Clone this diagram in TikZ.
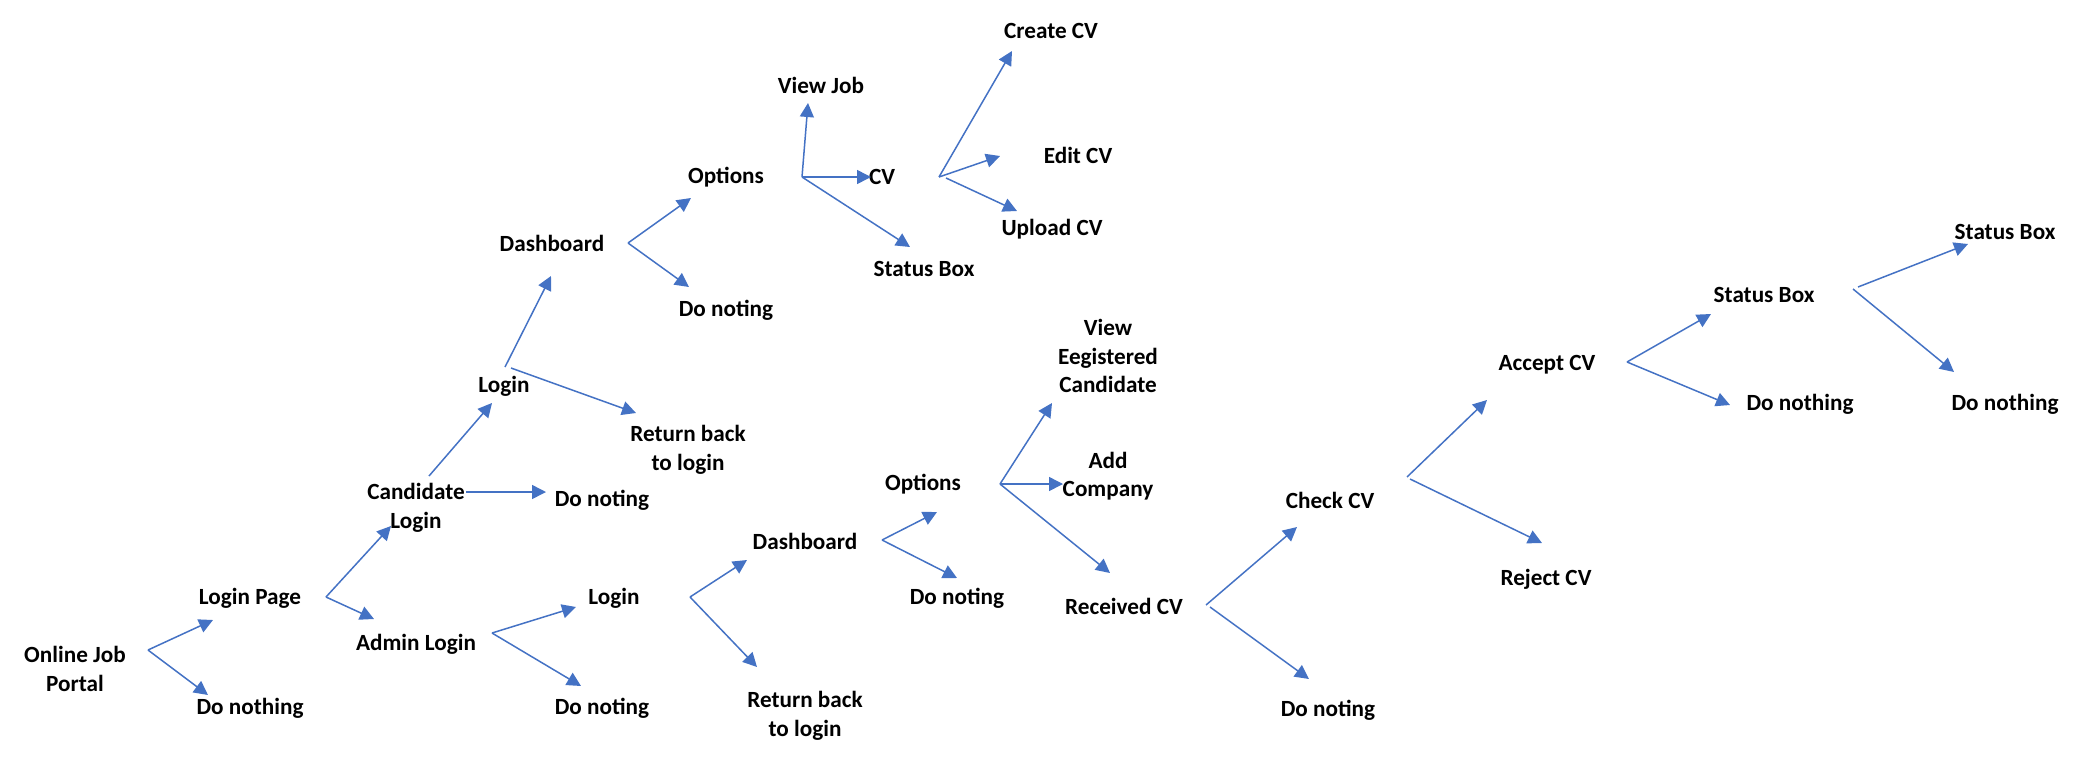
\documentclass[tikz,border=0pt]{standalone}
\usepackage{fontspec}
\setmainfont{Carlito}
\usetikzlibrary{arrows.meta}
\definecolor{officeblue}{HTML}{4472C4}
\tikzset{
  lbl/.style={font=\fontsize{11.6}{14.3}\selectfont\bfseries, align=center, inner sep=0pt, text=black},
  arr/.style={draw=officeblue, line width=0.75pt, -{Triangle[length=7pt,width=7pt]}}
}
\begin{document}
\begin{tikzpicture}[x=0.5pt,y=-0.5pt]
\useasboundingbox (0,0) rectangle (2081,766);
% nodes
\node[lbl] (ojp) at (75,669) {Online Job\\Portal};
\node[lbl] (lp) at (250,598) {Login Page};
\node[lbl] (dn1) at (250,708) {Do nothing};
\node[lbl] (cl) at (416,508) {Candidate\\Login};
\node[lbl] (al) at (416,644) {Admin Login};
\node[lbl] (dn2) at (602,500) {Do noting};
\node[lbl] (login1) at (504,386) {Login};
\node[lbl] (rb1) at (688,450) {Return back\\to login};
\node[lbl] (dash1) at (552,243) {Dashboard};
\node[lbl] (opt1) at (726,177) {Options};
\node[lbl] (dn3) at (726,310) {Do noting};
\node[lbl] (vj) at (821,85) {View Job};
\node[lbl] (cv) at (882,177) {CV};
\node[lbl] (sb1) at (924,269) {Status Box};
\node[lbl] (ccv) at (1051,31) {Create CV};
\node[lbl] (ecv) at (1078,155) {Edit CV};
\node[lbl] (ucv) at (1052,229) {Upload CV};
\node[lbl] (login2) at (614,598) {Login};
\node[lbl] (dn4) at (602,708) {Do noting};
\node[lbl] (dash2) at (805,541) {Dashboard};
\node[lbl] (rb2) at (805,716) {Return back\\to login};
\node[lbl] (opt2) at (923,484) {Options};
\node[lbl] (dn5) at (957,598) {Do noting};
\node[lbl] (vec) at (1108,356) {View\\Eegistered\\Candidate};
\node[lbl] (ac) at (1108,476) {Add\\Company};
\node[lbl] (rcv) at (1124,606) {Received CV};
\node[lbl] (chk) at (1330,500) {Check CV};
\node[lbl] (dn6) at (1328,710) {Do noting};
\node[lbl] (acc) at (1547,365) {Accept CV};
\node[lbl] (rej) at (1546,579) {Reject CV};
\node[lbl] (sb2) at (1764,295) {Status Box};
\node[lbl] (dn7) at (1800,404) {Do nothing};
\node[lbl] (sb3) at (2005,232) {Status Box};
\node[lbl] (dn8) at (2005,404) {Do nothing};
% fork points
\coordinate (fojp) at (148,650);
\coordinate (flp) at (326,597);
\coordinate (fcl) at (429,476);
\coordinate (fcl2) at (466,492);
\coordinate (flog1) at (505,367);
\coordinate (flog1b) at (511,368);
\coordinate (fdash1) at (628,243);
\coordinate (fopt1) at (802,177);
\coordinate (fcv) at (939,177);
\coordinate (fcvb) at (946,178);
\coordinate (fal) at (492,633);
\coordinate (flog2) at (690,597);
\coordinate (fdash2) at (882,540);
\coordinate (fopt2) at (1000,484);
\coordinate (frcv) at (1206,605);
\coordinate (frcvb) at (1210,607);
\coordinate (fchk) at (1407,477);
\coordinate (fchkb) at (1410,479);
\coordinate (facc) at (1627,362);
\coordinate (fsb2) at (1858,287);
\coordinate (fsb2b) at (1853,289);
% arrow tips
\coordinate (tlp) at (213,620);
\coordinate (tdn1) at (208,695);
\coordinate (tcl) at (391,526);
\coordinate (tal) at (374,619);
\coordinate (tlogin1) at (492,403);
\coordinate (tdn2) at (546,492);
\coordinate (tdash1) at (551,276);
\coordinate (trb1) at (636,413);
\coordinate (topt1) at (691,198);
\coordinate (tdn3) at (689,287);
\coordinate (tvj) at (808,103);
\coordinate (tcv) at (871,177);
\coordinate (tsb1) at (910,247);
\coordinate (tccv) at (1012,51);
\coordinate (tecv) at (1000,156);
\coordinate (tucv) at (1017,211);
\coordinate (tlogin2) at (576,607);
\coordinate (tdn4) at (581,686);
\coordinate (tdash2) at (747,560);
\coordinate (trb2) at (757,667);
\coordinate (topt2) at (937,512);
\coordinate (tdn5) at (957,578);
\coordinate (tvec) at (1052,403);
\coordinate (tac) at (1063,484);
\coordinate (trcv) at (1110,573);
\coordinate (tchk) at (1297,527);
\coordinate (tdn6) at (1309,679);
\coordinate (tacc) at (1487,400);
\coordinate (trej) at (1542,543);
\coordinate (tsb2) at (1711,314);
\coordinate (tdn7) at (1730,405);
\coordinate (tsb3) at (1968,244);
\coordinate (tdn8) at (1954,372);
% connectors
\draw[arr] (fojp) -- (tlp);
\draw[arr] (fojp) -- (tdn1);
\draw[arr] (flp) -- (tcl);
\draw[arr] (flp) -- (tal);
\draw[arr] (fcl) -- (tlogin1);
\draw[arr] (fcl2) -- (tdn2);
\draw[arr] (flog1) -- (tdash1);
\draw[arr] (flog1b) -- (trb1);
\draw[arr] (fdash1) -- (topt1);
\draw[arr] (fdash1) -- (tdn3);
\draw[arr] (fopt1) -- (tvj);
\draw[arr] (fopt1) -- (tcv);
\draw[arr] (fopt1) -- (tsb1);
\draw[arr] (fcv) -- (tccv);
\draw[arr] (fcv) -- (tecv);
\draw[arr] (fcvb) -- (tucv);
\draw[arr] (fal) -- (tlogin2);
\draw[arr] (fal) -- (tdn4);
\draw[arr] (flog2) -- (tdash2);
\draw[arr] (flog2) -- (trb2);
\draw[arr] (fdash2) -- (topt2);
\draw[arr] (fdash2) -- (tdn5);
\draw[arr] (fopt2) -- (tvec);
\draw[arr] (fopt2) -- (tac);
\draw[arr] (fopt2) -- (trcv);
\draw[arr] (frcv) -- (tchk);
\draw[arr] (frcvb) -- (tdn6);
\draw[arr] (fchk) -- (tacc);
\draw[arr] (fchkb) -- (trej);
\draw[arr] (facc) -- (tsb2);
\draw[arr] (facc) -- (tdn7);
\draw[arr] (fsb2) -- (tsb3);
\draw[arr] (fsb2b) -- (tdn8);
\end{tikzpicture}
\end{document}
